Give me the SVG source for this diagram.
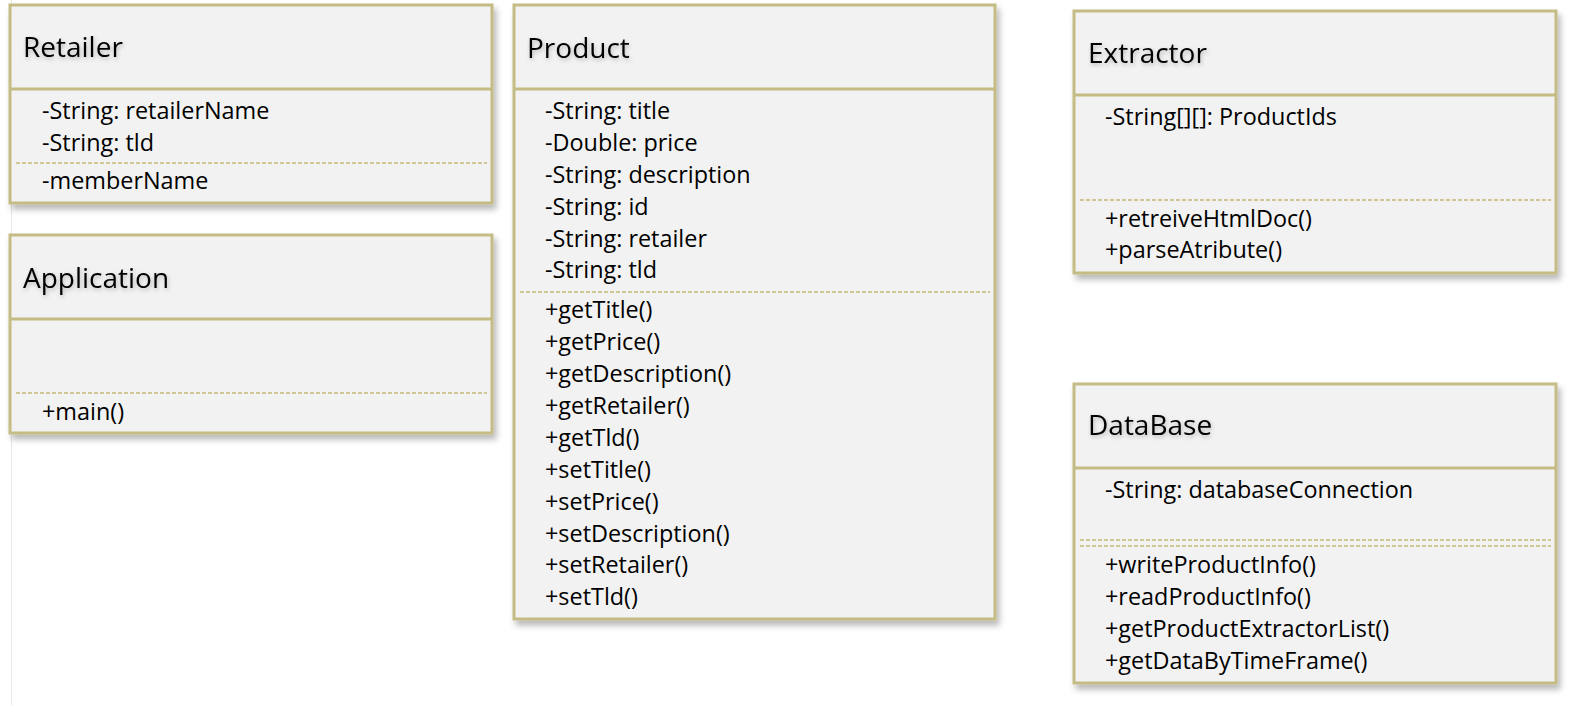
<svg xmlns="http://www.w3.org/2000/svg" width="1582" height="715" viewBox="0 0 1582 715">
<style>
.box{fill:#f2f2f2;stroke:#c4bc84;stroke-width:3}
.sep{stroke:#c4bc84;stroke-width:3}
.dash{stroke:#cfc896;stroke-width:2;stroke-dasharray:4 2;fill:none}
.title{font-family:"Open Sans","Liberation Sans",sans-serif;font-size:28px;fill:#000}
.item{font-family:"Open Sans","Liberation Sans",sans-serif;font-size:23.4px;fill:#000}
</style>
<defs>
<filter id="sh" x="-5%" y="-5%" width="115%" height="120%">
<feDropShadow dx="3" dy="5" stdDeviation="3" flood-color="#000" flood-opacity="0.28"/>
</filter>
<filter id="tsh" x="-10%" y="-20%" width="130%" height="160%">
<feDropShadow dx="1" dy="2" stdDeviation="2" flood-color="#000" flood-opacity="0.25"/>
</filter>
</defs>
<rect width="1582" height="715" fill="#ffffff"/>
<line x1="11.5" y1="0" x2="11.5" y2="705" stroke="#e6e6e6" stroke-width="1"/>
<g id="connectors"></g>

<g id="retailer">
<rect class="box" x="10" y="5" width="482" height="198" filter="url(#sh)"/>
<line class="sep" x1="10" y1="89" x2="492" y2="89"/>
<line class="dash" x1="16" y1="163" x2="487" y2="163"/>
<text class="title" x="23" y="57" filter="url(#tsh)">Retailer</text>
<text class="item" x="42" y="119">-String: retailerName</text>
<text class="item" x="42" y="151">-String: tld</text>
<text class="item" x="42" y="189">-memberName</text>
</g>

<g id="application">
<rect class="box" x="10" y="235" width="482" height="198" filter="url(#sh)"/>
<line class="sep" x1="10" y1="319" x2="492" y2="319"/>
<line class="dash" x1="16" y1="393" x2="487" y2="393"/>
<text class="title" x="23" y="288" filter="url(#tsh)">Application</text>
<text class="item" x="42" y="420">+main()</text>
</g>

<g id="product">
<rect class="box" x="514" y="5" width="481" height="614" filter="url(#sh)"/>
<line class="sep" x1="514" y1="89" x2="995" y2="89"/>
<line class="dash" x1="520" y1="292" x2="990" y2="292"/>
<text class="title" x="527" y="58" filter="url(#tsh)">Product</text>
<text class="item" x="545" y="119">-String: title</text>
<text class="item" x="545" y="151">-Double: price</text>
<text class="item" x="545" y="183">-String: description</text>
<text class="item" x="545" y="215">-String: id</text>
<text class="item" x="545" y="247">-String: retailer</text>
<text class="item" x="545" y="278">-String: tld</text>
<text class="item" x="545" y="318">+getTitle()</text>
<text class="item" x="545" y="350">+getPrice()</text>
<text class="item" x="545" y="382">+getDescription()</text>
<text class="item" x="545" y="414">+getRetailer()</text>
<text class="item" x="545" y="446">+getTld()</text>
<text class="item" x="545" y="478">+setTitle()</text>
<text class="item" x="545" y="510">+setPrice()</text>
<text class="item" x="545" y="542">+setDescription()</text>
<text class="item" x="545" y="573">+setRetailer()</text>
<text class="item" x="545" y="605">+setTld()</text>
</g>

<g id="extractor">
<rect class="box" x="1074" y="11" width="482" height="262" filter="url(#sh)"/>
<line class="sep" x1="1074" y1="95" x2="1556" y2="95"/>
<line class="dash" x1="1080" y1="200" x2="1551" y2="200"/>
<text class="title" x="1088" y="63" filter="url(#tsh)">Extractor</text>
<text class="item" x="1105" y="125">-String[][]: ProductIds</text>
<text class="item" x="1105" y="227">+retreiveHtmlDoc()</text>
<text class="item" x="1105" y="258">+parseAtribute()</text>
</g>

<g id="database">
<rect class="box" x="1074" y="384" width="482" height="299" filter="url(#sh)"/>
<line class="sep" x1="1074" y1="468" x2="1556" y2="468"/>
<line class="dash" x1="1080" y1="540" x2="1551" y2="540"/>
<line class="dash" x1="1080" y1="546" x2="1551" y2="546"/>
<text class="title" x="1088" y="435" filter="url(#tsh)">DataBase</text>
<text class="item" x="1105" y="498">-String: databaseConnection</text>
<text class="item" x="1105" y="573">+writeProductInfo()</text>
<text class="item" x="1105" y="605">+readProductInfo()</text>
<text class="item" x="1105" y="637">+getProductExtractorList()</text>
<text class="item" x="1105" y="669">+getDataByTimeFrame()</text>
</g>
</svg>
